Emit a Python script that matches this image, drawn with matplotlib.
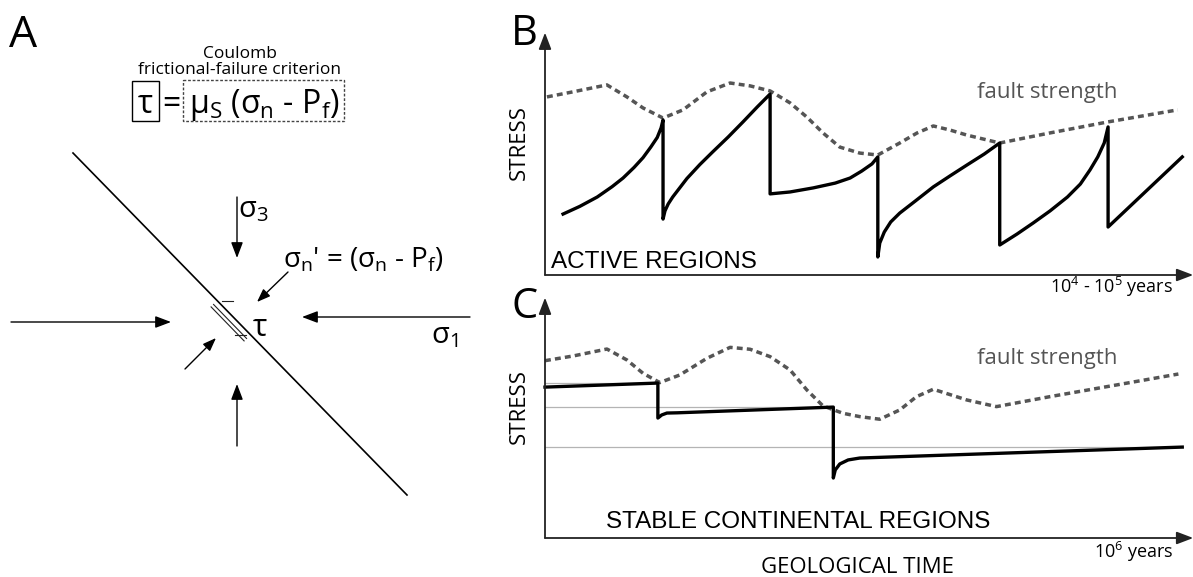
#!/usr/bin/env python3
# -*- coding: utf-8 -*-
"""Coulomb criterion sketch (A) + stress / fault-strength cycles (B, C).
output: out.png
"""
import matplotlib
matplotlib.use("Agg")
import matplotlib.pyplot as plt
from matplotlib.patches import Rectangle

plt.rcParams["font.family"] = ["Open Sans", "DejaVu Sans"]
plt.rcParams["mathtext.default"] = "regular"

W, H = 1193, 577

# --- B : active regions (time 0-100, stress 0-100, arbitrary units)
b_time = [2.8, 5.4, 8.1, 10.4, 12.1, 13.8, 15.2, 16.4, 17.4, 18.0, 18.3,
          18.3, 18.6, 19.1, 19.8, 20.8, 22.0, 24.0, 26.0, 28.4, 30.7, 32.9, 34.9,
          34.9, 38.0, 41.6, 45.0, 47.3, 49.1, 50.7, 51.6,
          51.6, 51.9, 52.6, 53.6, 55.0, 57.4, 60.2, 62.8, 65.4, 68.1, 70.5,
          70.5, 73.2, 75.7, 78.3, 81.0, 83.0, 84.5, 85.7, 86.7, 87.3,
          87.3, 98.8]
b_stress = [25.4, 28.6, 32.5, 36.8, 40.4, 44.8, 48.9, 53.3, 57.3, 61.3, 64.6,
            23.3, 26.7, 29.6, 32.5, 36.0, 40.2, 46.0, 51.3, 57.5, 63.8, 70.0, 75.4,
            33.8, 34.6, 36.3, 38.3, 40.4, 43.3, 46.3, 49.2,
            7.5, 13.3, 17.9, 22.1, 25.8, 30.8, 36.7, 41.3, 45.8, 50.4, 55.0,
            12.5, 17.1, 21.7, 26.7, 32.5, 37.9, 43.8, 49.2, 55.0, 61.7,
            20.0, 49.2]
b_str_time = [0.3, 4.3, 9.6, 12.7, 15.2, 18.3, 21.4, 25.1, 28.7, 31.8, 34.9,
              38.0, 40.6, 43.1, 45.7, 48.8, 51.6, 55.0, 57.7, 60.2, 62.8,
              65.4, 70.5, 78.3, 87.3, 98.1]
b_strength = [74.2, 76.3, 79.2, 74.2, 69.6, 65.4, 68.8, 76.3, 80.0, 78.8, 76.7,
              71.7, 65.8, 59.2, 53.3, 50.8, 50.0, 55.0, 59.2, 62.1, 60.4,
              58.3, 55.0, 59.2, 63.8, 68.8]

# --- C : stable continental regions
c_time = [0.0, 17.5, 17.5, 18.1, 18.9, 20.5, 44.7, 44.7, 45.0, 45.7, 47.0,
          48.8, 98.8]
c_stress = [63.4, 65.1, 50.4, 51.7, 52.5, 52.6, 55.0, 25.2, 28.6, 31.1, 32.8,
            33.6, 38.2]
c_str_time = [0.0, 4.4, 9.6, 12.7, 15.2, 17.8, 20.9, 25.1, 28.7, 31.8, 34.9,
              38.0, 40.6, 43.1, 46.2, 48.8, 51.9, 55.0, 57.6, 60.2, 65.4,
              70.0, 78.3, 88.6, 98.2]
c_strength = [74.5, 76.5, 79.4, 74.8, 69.2, 65.3, 68.5, 75.5, 80.1, 79.3, 76.2,
              70.6, 62.2, 55.5, 52.4, 51.0, 49.9, 53.8, 59.4, 62.5, 58.0,
              55.2, 59.4, 64.3, 68.9]
# pre-failure stress levels (thin gray guides) and where they stop
c_levels = [65.1, 55.0, 38.2]
c_level_end = [17.5, 44.7, 98.8]

STRENGTH_C = "#555555"
DASH = (0, (1.7, 1.2))

fig = plt.figure(figsize=(W / 100, H / 100), dpi=100)
fig.patch.set_facecolor("white")

# full-figure overlay in pixel units for the sketch (panel A) and labels
ov = fig.add_axes([0, 0, 1, 1])
ov.set_xlim(0, W)
ov.set_ylim(H, 0)
ov.axis("off")


def arrow(a, tail, tip, lw=1.0, hl=0.95, hw=0.36, color="k"):
    a.annotate("", xy=tip, xytext=tail, annotation_clip=False,
               arrowprops=dict(arrowstyle=f"-|>,head_length={hl},head_width={hw}",
                               color=color, lw=lw, shrinkA=0, shrinkB=0,
                               mutation_scale=10))


# ---------------- panel A
fault = [(73, 153), (407, 495)]
ov.plot([p[0] for p in fault], [p[1] for p in fault], color="k", lw=1.2)

# shear sense marks along the fault
for off in (3.5, 7.0):
    ov.plot([216 - off * 0.7, 249 - off * 0.7], [302 + off * 0.7, 336 + off * 0.7],
            color="#222", lw=0.8)
ov.plot([222, 233], [301, 301], color="#222", lw=0.8)
ov.plot([235, 246], [335, 335], color="#222", lw=0.8)

arrow(ov, (237, 197), (237, 258))      # sigma3 from top
arrow(ov, (237, 446), (237, 384))      # sigma3 from bottom
arrow(ov, (11, 322), (171, 322))       # sigma1 from left
arrow(ov, (470, 317), (302, 317))      # sigma1 from right
arrow(ov, (288, 272), (257, 302), hl=0.8, hw=0.3)   # sigma_n'
arrow(ov, (185, 369), (216, 338), hl=0.8, hw=0.3)

ov.text(9, 47, "A", fontsize=32, va="baseline", ha="left")
ov.text(240, 58, "Coulomb", fontsize=12.5, ha="center", va="baseline")
ov.text(240, 74, "frictional-failure criterion", fontsize=12.5,
        ha="center", va="baseline")
ov.add_patch(Rectangle((132, 81), 27, 40, fill=False, lw=1.0, ec="k"))
ov.add_patch(Rectangle((183, 80), 161, 41, fill=False, lw=1.0, ec="#444",
                       ls=(0, (2, 1.3))))
ov.text(145.5, 113, "τ", fontsize=23, ha="center", va="baseline")
ov.text(171, 113, "=", fontsize=23, ha="center", va="baseline")
ov.text(264, 113, "$μ_S$ ($σ_n$ - $P_f$)", fontsize=23, ha="center",
        va="baseline")

ov.text(238, 217, "$σ_3$", fontsize=21, ha="left", va="baseline")
ov.text(283, 268, "$σ_n$' = ($σ_n$ - $P_f$)", fontsize=20, ha="left",
        va="baseline")
ov.text(253, 336, "τ", fontsize=22, ha="left", va="baseline")
ov.text(431, 343, "$σ_1$", fontsize=21, ha="left", va="baseline")


# ---------------- panels B and C
def panel(rect, t, s, st, ss):
    a = fig.add_axes(rect)
    a.set_xlim(0, 100)
    a.set_ylim(0, 100)
    a.axis("off")
    arrow(a, (0, 0), (0, 101), lw=1.3, hl=1.0, hw=0.38, color="#222")
    arrow(a, (0, 0), (100.5, 0), lw=1.3, hl=1.0, hw=0.38, color="#222")
    a.plot(st, ss, color=STRENGTH_C, lw=2.5, ls=DASH, dash_capstyle="butt",
           clip_on=False)
    a.plot(t, s, color="k", lw=2.4, clip_on=False)
    return a


ax_b = panel([545 / W, (H - 275) / H, 645 / W, 240 / H],
             b_time, b_stress, b_str_time, b_strength)
ax_c = panel([545 / W, (H - 538) / H, 645 / W, 238 / H],
             c_time, c_stress, c_str_time, c_strength)
for lev, end in zip(c_levels, c_level_end):
    ax_c.plot([0, end], [lev, lev], color="#b4b4b4", lw=0.9, zorder=1)

# labels (pixel positions)
ov.text(511, 45, "B", fontsize=30, va="baseline")
ov.text(511, 318, "C", fontsize=30, va="baseline")
for yc in (143, 407):
    ov.text(519, yc, "STRESS", fontsize=16, rotation=90, ha="center", va="center")
ov.text(1047, 98, "fault strength", fontsize=16, color=STRENGTH_C,
        ha="center", va="baseline")
ov.text(1047, 364, "fault strength", fontsize=16, color=STRENGTH_C,
        ha="center", va="baseline")
ov.text(551, 268, "ACTIVE REGIONS", fontsize=17.5, family="Liberation Sans",
        va="baseline")
ov.text(606, 528, "STABLE CONTINENTAL REGIONS", fontsize=17.5,
        family="Liberation Sans", va="baseline")
ov.text(857, 573, "GEOLOGICAL TIME", fontsize=16, ha="center", va="baseline")
ov.text(1173, 293, "10$^4$ - 10$^5$ years", fontsize=13, ha="right",
        va="baseline")
ov.text(1173, 558, "10$^6$ years", fontsize=13, ha="right", va="baseline")

fig.savefig("out.png", dpi=100)
